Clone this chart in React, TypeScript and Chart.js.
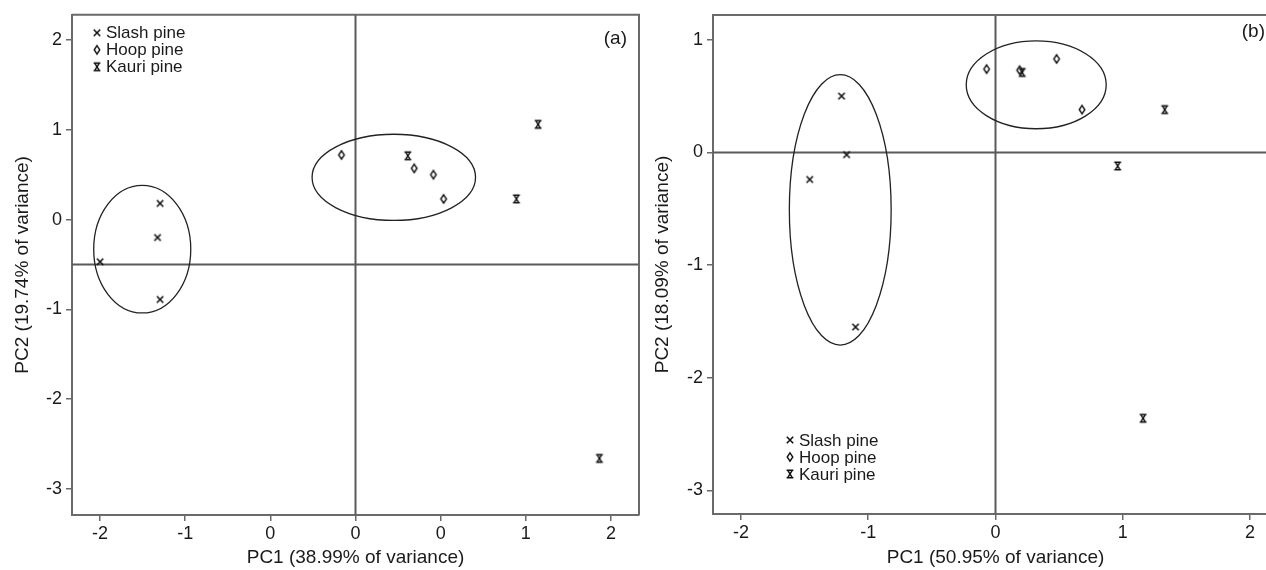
import React, { useEffect, useRef } from 'react';
import { Chart, registerables } from 'chart.js';

Chart.register(...registerables);

// ---------- Panel (a) ----------
const seriesNames = ['Slash pine', 'Hoop pine', 'Kauri pine'];

const slashA_pc1 = [-1.53, -1.55, -2.0, -1.53];
const slashA_pc2 = [0.18, -0.2, -0.47, -0.89];
const hoopA_pc1 = [-0.11, 0.46, 0.61, 0.69];
const hoopA_pc2 = [0.72, 0.57, 0.5, 0.23];
const kauriA_pc1 = [0.41, 1.43, 1.26, 1.91];
const kauriA_pc2 = [0.71, 1.06, 0.23, -2.66];
// ellipse: [centre PC1, centre PC2, radius PC1, radius PC2]
const ellipsesA = [
  [-1.67, -0.33, 0.38, 0.71],
  [0.3, 0.47, 0.64, 0.48],
];
const refLineA_x = 0;
const refLineA_y = -0.5;
const xTicksA = [-2, -1.3333, -0.6667, 0, 0.6667, 1.3333, 2];
const xTickLabelsA = ['-2', '-1', '0', '0', '0', '1', '2'];
const yTicksA = [-3, -2, -1, 0, 1, 2];
const yTickLabelsA = ['-3', '-2', '-1', '0', '1', '2'];
const xRangeA = [-2.22, 2.22];
const yRangeA = [-3.29, 2.28];

// ---------- Panel (b) ----------
const slashB_pc1 = [-1.21, -1.17, -1.46, -1.1];
const slashB_pc2 = [0.5, -0.02, -0.24, -1.55];
const hoopB_pc1 = [-0.07, 0.19, 0.48, 0.68];
const hoopB_pc2 = [0.74, 0.73, 0.83, 0.38];
const kauriB_pc1 = [0.21, 1.33, 0.96, 1.16];
const kauriB_pc2 = [0.71, 0.38, -0.12, -2.36];
const ellipsesB = [
  [-1.22, -0.51, 0.4, 1.2],
  [0.32, 0.6, 0.55, 0.39],
];
const refLineB_x = 0;
const refLineB_y = 0;
const xTicksB = [-2, -1, 0, 1, 2];
const xTickLabelsB = ['-2', '-1', '0', '1', '2'];
const yTicksB = [-3, -2, -1, 0, 1];
const yTickLabelsB = ['-3', '-2', '-1', '0', '1'];
const xRangeB = [-2.22, 2.22];
const yRangeB = [-3.21, 1.22];

const FONT = "'Liberation Sans', Arial, sans-serif";
const AXIS_GREY = '#6a6a6a';
const INK = '#1a1a1a';

function makeMarker(kind: string): HTMLCanvasElement {
  const c = document.createElement('canvas');
  c.width = 12;
  c.height = 12;
  const g = c.getContext('2d')!;
  g.strokeStyle = '#111';
  g.lineWidth = 1.6;
  g.lineCap = 'butt';
  g.beginPath();
  if (kind === 'cross') {
    g.moveTo(2.8, 2.8); g.lineTo(9.2, 9.2);
    g.moveTo(9.2, 2.8); g.lineTo(2.8, 9.2);
  } else if (kind === 'diamond') {
    g.lineWidth = 1.4;
    g.moveTo(6, 1.8); g.lineTo(8.8, 6); g.lineTo(6, 10.2); g.lineTo(3.2, 6); g.closePath();
  } else {
    g.lineWidth = 1.5;
    g.moveTo(2.6, 2.2); g.lineTo(9.4, 2.2);
    g.moveTo(2.6, 9.8); g.lineTo(9.4, 9.8);
    g.moveTo(3.6, 2.2); g.lineTo(8.4, 9.8);
    g.moveTo(8.4, 2.2); g.lineTo(3.6, 9.8);
  }
  g.stroke();
  return c;
}

type PanelCfg = {
  series: [number[], number[]][];
  ellipses: number[][];
  refX: number;
  refY: number;
  xTicks: number[];
  xTickLabels: string[];
  yTicks: number[];
  yTickLabels: string[];
  xRange: number[];
  yRange: number[];
  xTitle: string;
  yTitle: string;
  panelLabel: string;
  yAxisWidth: number;
  xAxisHeight: number;
  padTop: number;
  padRight: number;
  yTitlePad: number;
  legendDX: number;
  legendDY: number;
  labelDX: number;
  labelDY: number;
  width: number;
};

function ScatterPanel({ cfg }: { cfg: PanelCfg }) {
  const ref = useRef<HTMLCanvasElement | null>(null);
  useEffect(() => {
    const markers = [makeMarker('cross'), makeMarker('diamond'), makeMarker('hourglass')];
    const decor = {
      id: 'decor',
      beforeDatasetsDraw(chart: any) {
        const { ctx, chartArea: a } = chart;
        const xs = chart.scales.x;
        const ys = chart.scales.y;
        ctx.save();
        // reference lines
        ctx.strokeStyle = '#5a5a5a';
        ctx.lineWidth = 2;
        const vx = xs.getPixelForValue(cfg.refX);
        const hy = ys.getPixelForValue(cfg.refY);
        ctx.beginPath();
        ctx.moveTo(vx, a.top);
        ctx.lineTo(vx, a.bottom);
        ctx.moveTo(a.left, hy);
        ctx.lineTo(a.right, hy);
        ctx.stroke();
        // ellipses
        ctx.strokeStyle = '#222';
        ctx.lineWidth = 1.3;
        for (const [cx, cy, rx, ry] of cfg.ellipses) {
          const px = xs.getPixelForValue(cx);
          const py = ys.getPixelForValue(cy);
          const prx = Math.abs(xs.getPixelForValue(cx + rx) - px);
          const pry = Math.abs(ys.getPixelForValue(cy + ry) - py);
          ctx.beginPath();
          ctx.ellipse(px, py, prx, pry, 0, 0, Math.PI * 2);
          ctx.stroke();
        }
        // top and right frame
        ctx.strokeStyle = AXIS_GREY;
        ctx.lineWidth = 2;
        ctx.beginPath();
        ctx.moveTo(a.left, a.top);
        ctx.lineTo(a.right, a.top);
        ctx.lineTo(a.right, a.bottom);
        ctx.stroke();
        ctx.restore();
      },
      afterDraw(chart: any) {
        const { ctx, chartArea: a } = chart;
        ctx.save();
        ctx.fillStyle = INK;
        ctx.font = `17px ${FONT}`;
        ctx.textBaseline = 'middle';
        ctx.textAlign = 'left';
        const lx = a.left + cfg.legendDX;
        const ly = a.top + cfg.legendDY;
        seriesNames.forEach((name, i) => {
          const yy = ly + i * 17;
          ctx.drawImage(markers[i], lx - 6, yy - 6);
          ctx.fillText(name, lx + 9, yy + 1);
        });
        ctx.font = `19px ${FONT}`;
        ctx.textAlign = 'right';
        ctx.fillText(cfg.panelLabel, a.right - cfg.labelDX, a.top + cfg.labelDY);
        ctx.restore();
      },
    };

    const datasets = cfg.series.map(([px, py], i) => ({
      label: seriesNames[i],
      data: px.map((v, k) => ({ x: v, y: py[k] })),
      pointStyle: markers[i],
      pointRadius: 5,
      showLine: false,
    }));

    const tickFont = { family: FONT, size: 18 };
    const titleFont = { family: FONT, size: 19 };
    const chart = new Chart(ref.current!, {
      type: 'scatter',
      data: { datasets },
      options: {
        animation: false,
        responsive: false,
        maintainAspectRatio: false,
        layout: { padding: { top: cfg.padTop, right: cfg.padRight, left: 0, bottom: 0 } },
        plugins: { legend: { display: false }, tooltip: { enabled: false } },
        scales: {
          x: {
            type: 'linear',
            min: cfg.xRange[0],
            max: cfg.xRange[1],
            afterBuildTicks: (s: any) => {
              s.ticks = cfg.xTicks.map((v) => ({ value: v }));
            },
            afterFit: (s: any) => {
              s.height = cfg.xAxisHeight;
            },
            ticks: {
              color: INK,
              font: tickFont,
              padding: 2,
              maxRotation: 0,
              autoSkip: false,
              callback: (_v: any, i: number) => cfg.xTickLabels[i],
            },
            grid: { display: true, drawOnChartArea: false, drawTicks: true, tickLength: 6, color: AXIS_GREY, lineWidth: 1.5 },
            border: { display: true, color: AXIS_GREY, width: 2 },
            title: { display: true, text: cfg.xTitle, color: INK, font: titleFont, padding: { top: 0, bottom: 1 } },
          },
          y: {
            type: 'linear',
            min: cfg.yRange[0],
            max: cfg.yRange[1],
            afterBuildTicks: (s: any) => {
              s.ticks = cfg.yTicks.map((v) => ({ value: v }));
            },
            afterFit: (s: any) => {
              s.width = cfg.yAxisWidth;
            },
            ticks: {
              color: INK,
              font: tickFont,
              padding: 4,
              autoSkip: false,
              callback: (_v: any, i: number) => cfg.yTickLabels[i],
            },
            grid: { display: true, drawOnChartArea: false, drawTicks: true, tickLength: 6, color: AXIS_GREY, lineWidth: 1.5 },
            border: { display: true, color: AXIS_GREY, width: 2 },
            title: { display: true, text: cfg.yTitle, color: INK, font: titleFont, padding: { top: cfg.yTitlePad, bottom: 0 } },
          },
        },
      },
      plugins: [decor],
    } as any);
    return () => chart.destroy();
  }, [cfg]);
  return <canvas ref={ref} width={cfg.width} height={570} style={{ display: 'block' }} />;
}

const cfgA: PanelCfg = {
  series: [
    [slashA_pc1, slashA_pc2],
    [hoopA_pc1, hoopA_pc2],
    [kauriA_pc1, kauriA_pc2],
  ],
  ellipses: ellipsesA,
  refX: refLineA_x,
  refY: refLineA_y,
  xTicks: xTicksA,
  xTickLabels: xTickLabelsA,
  yTicks: yTicksA,
  yTickLabels: yTickLabelsA,
  xRange: xRangeA,
  yRange: yRangeA,
  xTitle: 'PC1 (38.99% of variance)',
  yTitle: 'PC2 (19.74% of variance)',
  panelLabel: '(a)',
  yAxisWidth: 72,
  xAxisHeight: 55,
  padTop: 14,
  padRight: 6,
  yTitlePad: 11,
  legendDX: 25,
  legendDY: 18,
  labelDX: 12,
  labelDY: 24,
  width: 645,
};

const cfgB: PanelCfg = {
  series: [
    [slashB_pc1, slashB_pc2],
    [hoopB_pc1, hoopB_pc2],
    [kauriB_pc1, kauriB_pc2],
  ],
  ellipses: ellipsesB,
  refX: refLineB_x,
  refY: refLineB_y,
  xTicks: xTicksB,
  xTickLabels: xTickLabelsB,
  yTicks: yTicksB,
  yTickLabels: yTickLabelsB,
  xRange: xRangeB,
  yRange: yRangeB,
  xTitle: 'PC1 (50.95% of variance)',
  yTitle: 'PC2 (18.09% of variance)',
  panelLabel: '(b)',
  yAxisWidth: 63,
  xAxisHeight: 56,
  padTop: 15,
  padRight: 6,
  yTitlePad: 1,
  legendDX: 77,
  legendDY: 425,
  labelDX: 13,
  labelDY: 17,
  width: 634,
};

export default function App() {
  return (
    <div
      style={{
        position: 'absolute',
        left: 0,
        top: 0,
        width: 1266,
        height: 570,
        overflow: 'hidden',
        background: '#fff',
      }}
    >
      <div style={{ position: 'absolute', left: 0, top: 0 }}>
        <ScatterPanel cfg={cfgA} />
      </div>
      <div style={{ position: 'absolute', left: 650, top: 0 }}>
        <ScatterPanel cfg={cfgB} />
      </div>
    </div>
  );
}
